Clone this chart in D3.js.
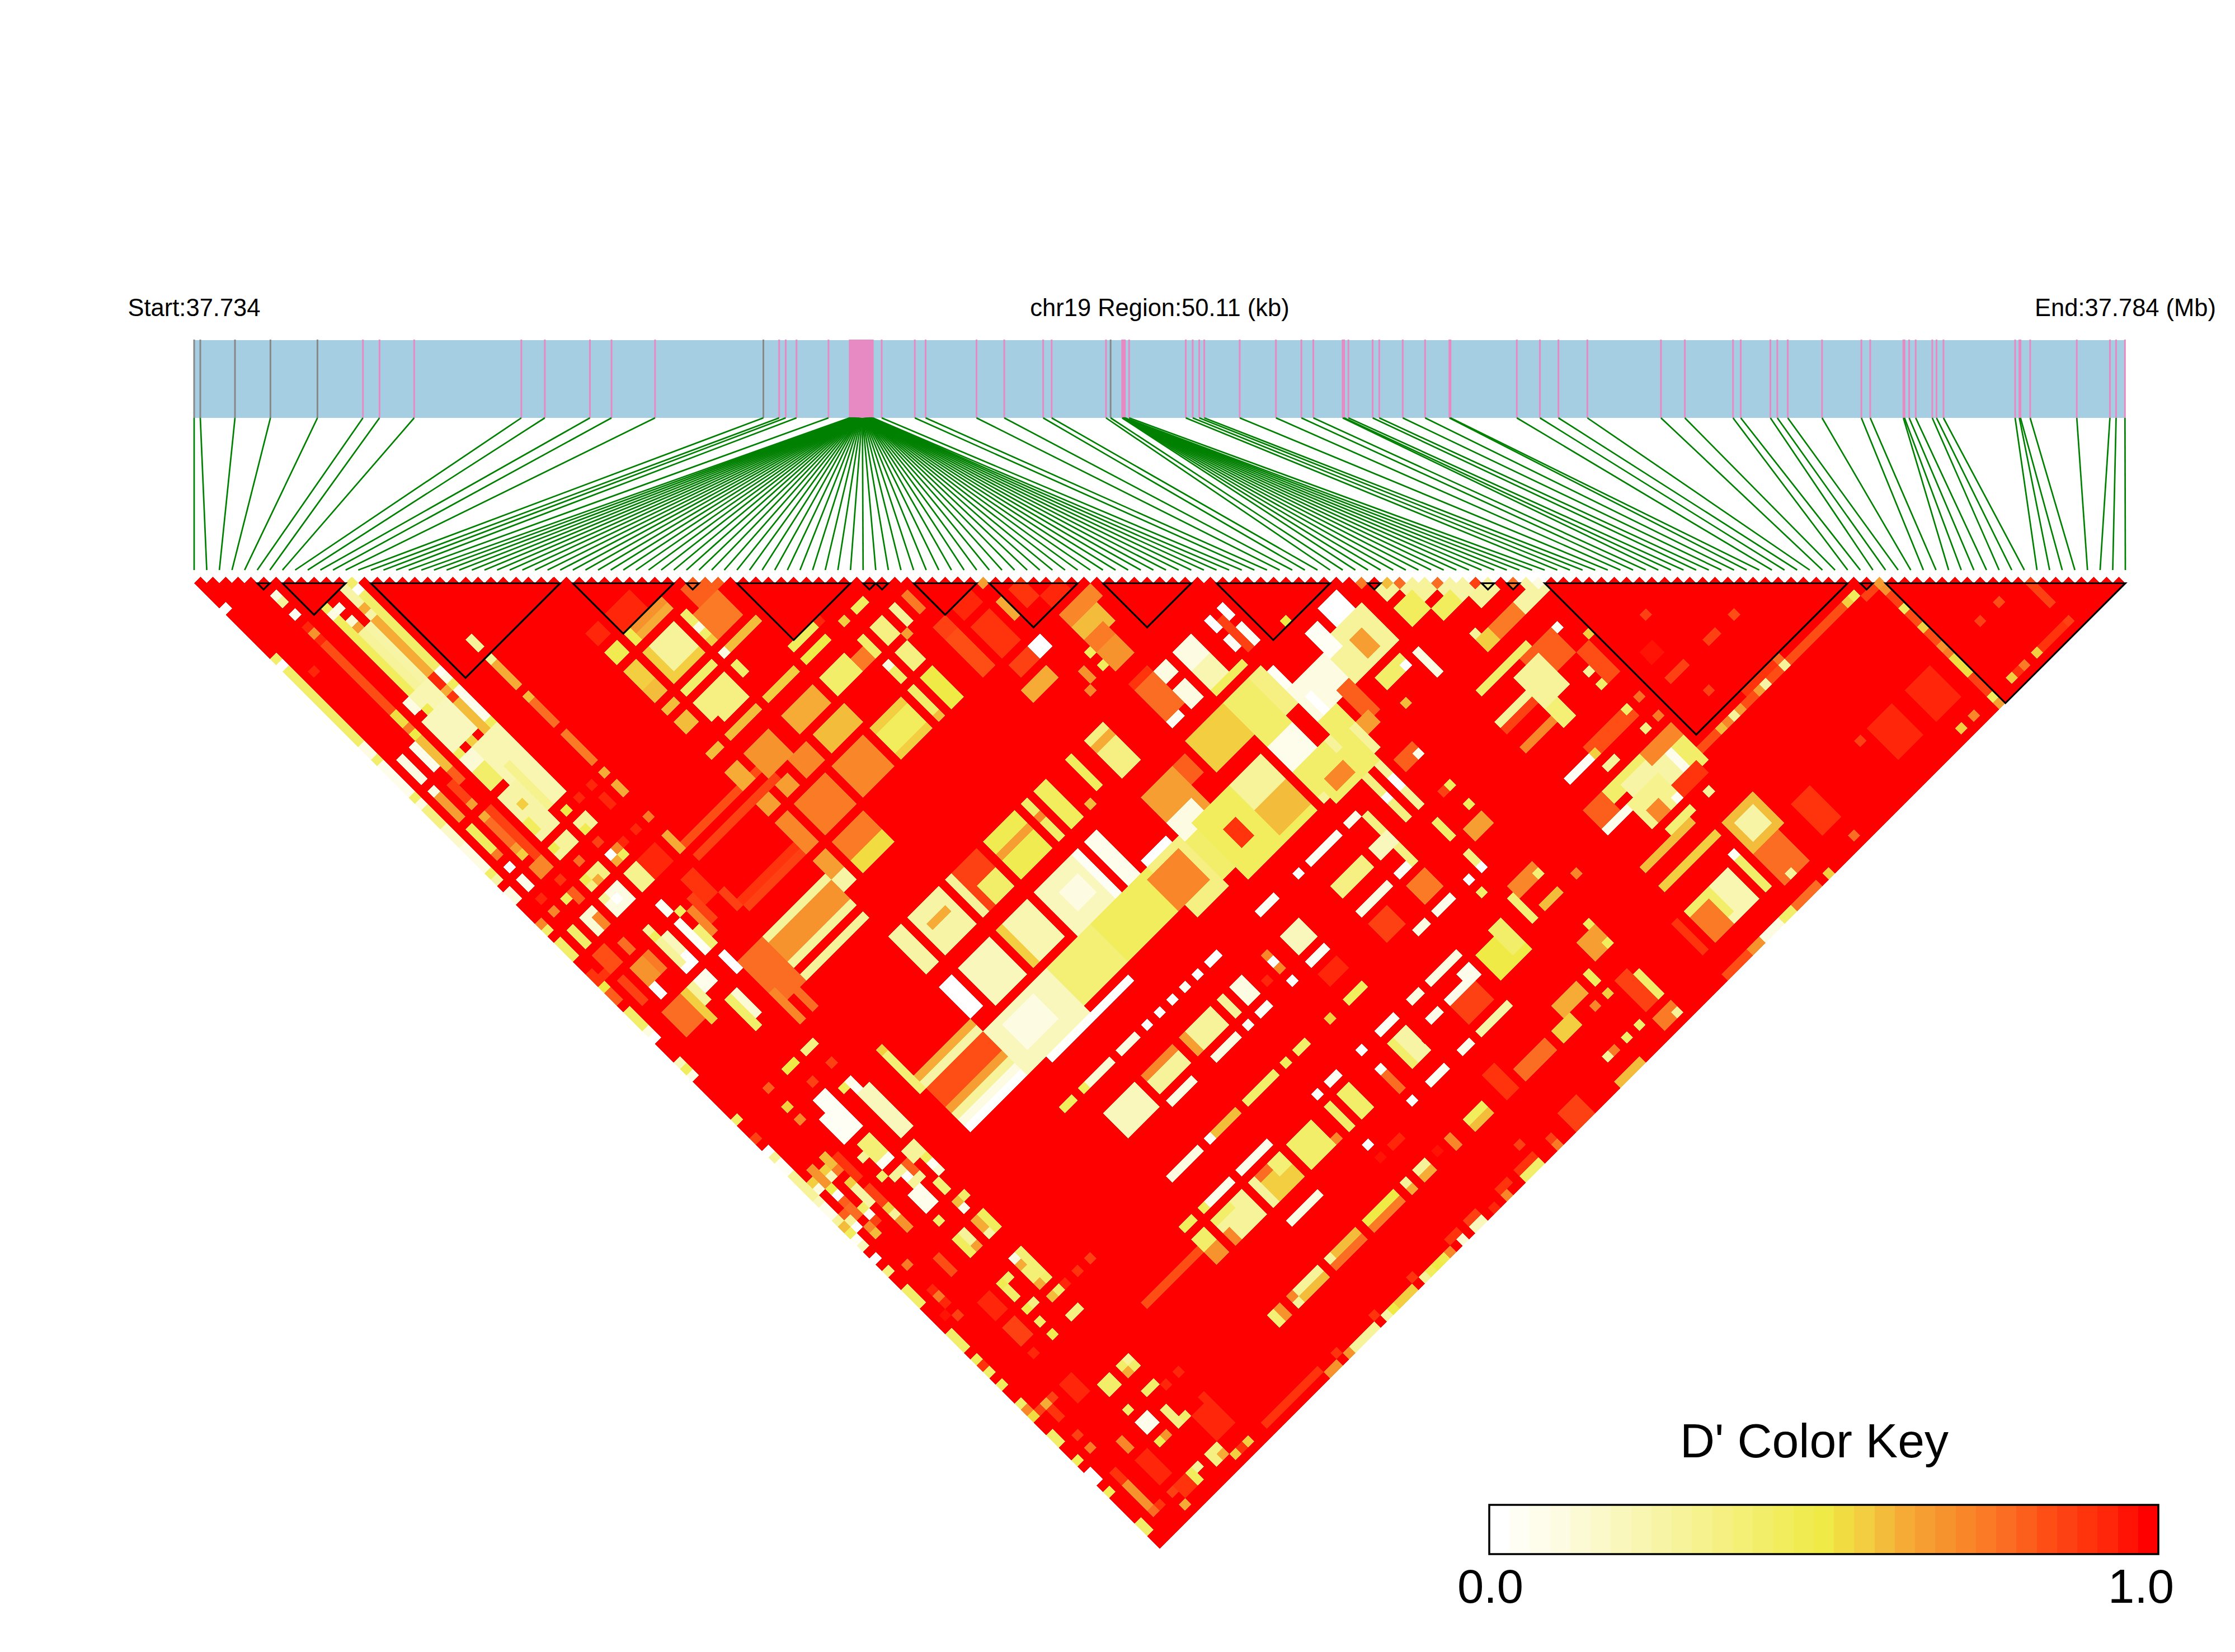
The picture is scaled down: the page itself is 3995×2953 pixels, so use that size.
<!DOCTYPE html>
<html><head><meta charset="utf-8">
<script src="https://d3js.org/d3.v7.min.js"></script>
<style>html,body{margin:0;background:#fff}svg{display:block}text{font-family:"Liberation Sans",Arial,sans-serif;fill:#000}</style>
</head><body><svg id="c" width="3995" height="2953" viewBox="0 0 3995 2953"></svg>
<script>
// SNP positions in kb from the region start
const snpLeft=[0,0.16,1.06,1.98,3.2,4.38,4.81,5.71,8.49,9.1,10.27,10.83,11.96,14.77,15.18,15.35,15.63,16.46];
const snpDense=[17.01,17.02,17.03,17.04,17.05,17.06,17.07,17.08,17.09,17.1,17.11,17.12,17.13,17.14,17.15,17.16,17.17,17.18,17.185,17.19,17.2,17.21,17.22,17.23,17.24,17.25,17.26,17.265,17.27,17.28,17.29,17.3,17.31,17.32,17.33,17.34,17.345,17.35,17.36,17.37,17.38,17.39,17.4,17.405,17.41,17.42,17.43,17.44,17.45,17.455,17.46,17.47,17.48,17.49,17.5,17.505,17.51,17.52,17.53,17.54,17.55,17.56,17.57,17.58];
const snpMid=[17.61,17.84,18.7,18.98,20.3,21.02,22.03,22.25,23.66,23.78,24.08,24.085,24.09,24.095,24.1,24.105,24.11,24.115,24.12,24.125,24.13,24.135,24.14,24.145,24.15,24.26,25.73,25.91,26.08,26.21,27.13,28.07,28.73,29.04,29.8,29.84,29.95,30.58,30.75,31.36,31.94,32.57,32.6];
const snpRight=[34.32,34.92,35.4,36.15,38.06,38.68,39.93,40.13,40.9,41.08,41.35,42.24,43.26,43.49,44.35,44.38,44.5,44.67,45.1,45.21,45.39,47.25,47.36,47.39,47.64,48.85,49.71,49.87,50.1];
const greySnps=[0,1,2,3,4,13,91];
// LD block outlines, as first and last SNP index
const blockFirst=[5,7,14,30,39,43,53,54,57,63,72,81,93,102,104,107,132,134];
const blockLast=[6,12,29,38,40,52,54,55,62,70,79,90,94,103,105,131,133,153];
// legend
const keyLevels=[0,.1,.28,.5,.56,.63,.7,.78,.85,.93,1];
const keyColours=["#FFFFFF","#FDFBDF","#F7F39A","#EFEA45","#F2CF40","#F5A834","#F88E2C","#FB6E22","#FE4B15","#FF2A0A","#FF0000"];
const keyBins=33;
const keyTicks=["0.0","1.0"];
const labels=["Start:37.734","chr19 Region:50.11 (kb)","End:37.784 (Mb)"];
// D' patches: [first i, last i, first j, last j, D']; anything not listed is 1.0
const patchesEdge=[[0,0,5,5,0],[0,0,13,13,.42],[0,0,14,14,0],[0,0,15,26,.42],[0,0,27,28,.12],[0,0,29,29,.42],[0,0,30,34,.08],[0,0,35,35,.42],[0,0,36,36,.1],[0,0,37,39,.35],[0,0,40,42,.18],[0,0,43,46,.12],[0,0,47,47,.42],[0,0,48,48,.25],[0,0,50,51,.12],[0,0,55,55,.72],[0,0,56,56,.42],[0,0,58,60,.4],[0,0,63,63,.88],[0,0,65,65,.5],[0,0,66,67,.8],[0,0,69,71,.42],[0,0,72,72,.1],[0,0,73,73,.03],[0,0,77,77,.2],[0,0,78,78,.45],[0,0,79,79,.12],[0,0,86,86,.42],[0,0,89,89,.85],[0,0,91,91,0],[0,0,92,92,.3],[0,0,93,94,.06],[0,0,95,98,.3],[0,0,99,99,.2],[0,0,100,101,.08],[0,0,102,102,.3],[0,0,103,103,.6],[0,0,104,104,.45],[0,0,105,105,.05],[0,0,106,106,.2],[0,0,108,108,0],[0,0,110,110,.35],[0,0,113,115,.42],[0,0,120,122,.42],[0,0,124,124,.45],[0,0,125,125,.88],[0,0,126,126,.4],[0,0,128,128,.45],[0,0,131,131,.42],[0,0,132,132,.7],[0,0,133,133,.52],[0,0,136,137,.42],[0,0,140,140,.45],[0,0,142,143,0],[0,0,145,145,.45],[0,0,150,151,.4]];
const patchesLeft=[[5,5,8,8,.1],[5,5,9,9,.3],[5,5,11,11,.05],[5,5,13,13,.92],[5,5,14,14,.68],[5,5,15,15,.92],[5,5,16,26,.83],[5,5,27,28,.52],[5,5,29,29,.75],[5,5,30,30,.5],[5,5,31,35,.6],[5,5,36,37,.8],[2,2,17,17,.93],[12,12,13,13,.4],[12,12,14,14,0],[11,11,13,14,.25],[12,12,15,26,.42],[12,12,27,27,.05],[12,12,28,28,.1],[12,12,29,29,.45],[12,12,30,34,.08],[12,12,35,35,.45],[12,12,36,36,.1],[12,12,37,37,.42],[12,12,38,46,.2],[13,13,48,48,.93],[11,11,15,15,.25],[11,11,16,16,.63],[11,11,17,17,.25],[11,11,18,26,.62],[11,11,27,28,.93],[11,11,29,29,.62],[11,11,30,30,.9],[11,11,31,35,.58],[11,11,36,36,.1],[11,11,37,46,.3],[11,11,48,48,.5],[8,8,13,13,.45],[8,8,14,14,.1],[9,9,14,14,.08],[8,8,15,26,.45],[9,9,16,16,.15],[9,9,17,17,.65],[9,9,18,26,.3],[10,10,18,26,.25],[8,10,27,29,.22],[7,7,27,28,.1],[8,8,29,29,.48],[7,10,30,34,.2],[7,7,35,35,.45],[7,8,36,37,.15],[9,12,36,46,.22],[10,10,40,46,.32],[7,8,38,40,.42],[7,9,42,48,.25],[7,7,46,47,.45],[8,8,44,44,.56],[9,9,35,35,.55],[4,4,31,34,.08],[2,2,31,34,.12],[2,2,36,36,.12],[2,2,37,40,.66],[4,4,37,39,.85],[4,4,40,40,.65],[2,2,42,45,.45],[2,2,46,46,.75],[4,4,42,42,.62],[4,4,43,46,.78],[4,4,47,47,.65],[4,4,48,48,.55],[5,5,42,50,.85],[17,17,27,28,.3],[17,17,30,30,.3],[17,17,31,34,.63],[17,17,36,36,.6],[17,17,37,40,.78],[17,17,42,46,.75],[17,17,48,48,.63],[15,15,48,48,.93],[17,17,50,51,.63],[15,15,50,51,.93],[17,17,55,55,.75],[15,15,55,55,.93],[17,17,58,60,.62],[18,29,60,60,.82],[18,30,62,62,.87],[27,28,36,37,.92],[30,33,36,38,.92],[27,28,39,40,.48],[27,28,42,44,.55],[27,28,45,46,.6],[27,28,48,48,.6],[27,28,50,51,.58],[27,28,55,55,.58],[27,28,58,60,.63],[30,34,42,46,.56],[31,34,42,45,.3],[30,30,39,40,.48],[31,35,40,40,.63],[31,35,39,39,.68],[36,36,42,45,.42],[36,36,44,44,.12],[36,36,46,46,.55],[37,40,43,46,.73],[38,41,40,42,.8],[36,36,48,48,.12],[37,41,48,48,.58],[30,34,48,48,.4],[30,34,50,52,.35],[31,34,53,53,.35],[30,34,55,55,.58],[36,36,50,51,.4],
[11,12,50,51,.3],[11,11,51,51,.48],[7,9,50,51,.3],[7,7,50,50,.48],[11,11,53,53,.85],[8,8,53,53,.78],[4,5,50,51,.7],[2,2,48,48,0],[2,2,50,51,.08],[5,5,53,53,.88],[2,2,53,53,.92],[4,4,55,55,.45],[5,5,55,56,.8],[2,2,55,55,.7],[7,9,55,56,.35],[7,7,55,55,.48],[8,8,56,56,.63],[11,11,55,55,0],[12,12,55,55,.7],[12,12,56,56,.45],[11,11,56,56,.62],[13,13,55,55,.92],[11,12,58,60,.33],[7,9,58,60,.1],[8,8,59,59,.02],[7,7,58,58,.3],[4,5,58,60,.15],[5,5,59,60,.7],[2,2,58,60,.42],[13,15,58,60,.92],[2,3,62,64,.82],[0,1,64,64,.88],[5,5,63,64,.78],[4,5,66,68,.68],[6,6,66,68,.75],[2,2,66,69,.85],[4,4,69,70,0],[8,9,69,70,0],[8,9,72,73,.08],[12,12,72,74,0],[12,12,68,70,.38],[11,11,66,70,.05],[11,11,63,64,.05],[12,12,65,65,.45],[8,8,64,64,.3],[8,8,65,65,.45],[8,8,66,69,.3],[9,9,66,68,.2],[13,13,66,69,.7],[14,14,65,68,.85],[17,17,67,69,.85],[15,16,63,66,.88],[7,7,72,74,.3],[6,6,72,76,.55],[10,10,76,79,.15],[9,9,76,80,.4],[3,5,72,75,.78],[18,26,69,69,.88],[18,26,70,70,.85]];
const patchesMid=[[42,45,53,53,.45],[42,45,55,55,.5],[46,46,53,53,.93],[50,51,55,55,.45],[48,48,55,55,.55],[53,53,58,60,.3],[50,51,58,60,.35],[48,48,58,60,.42],[50,51,62,64,.35],[48,48,62,64,.4],[48,48,62,62,.12],[52,52,61,61,.65],[42,45,58,60,.42],[46,47,59,60,.75],[36,40,55,55,.55],[36,40,58,60,.62],[30,33,58,61,.68],[37,41,62,64,.6],[42,46,66,70,.57],[42,46,67,69,.45],[48,48,66,69,.42],[48,48,70,70,.58],[50,51,66,70,.5],[55,56,63,64,.85],[55,56,65,70,.82],[58,60,66,70,.9],[58,60,63,64,.92],[55,55,58,60,.75],[62,62,66,68,.62],[66,68,69,70,.92],[64,65,66,68,.9],[66,70,72,73,.7],[66,69,74,76,.58],[61,62,72,73,.03],[58,60,72,73,.85],[57,60,75,76,.62],[65,65,77,77,.45],[65,65,79,79,.45],[66,68,78,80,.68],[66,68,76,77,.75],[63,63,78,79,.68],[62,62,80,80,.7],[66,68,83,83,.9],[69,70,84,85,.1],[66,68,84,88,.78],[69,70,87,89,.12],[66,67,89,89,.05],[72,74,84,86,.12],[72,74,87,89,.22],[72,76,90,90,.45],[79,79,84,85,0],[77,77,84,85,0],[77,77,87,88,.05],[79,79,87,89,.05],[78,78,85,89,.85],[83,83,90,90,.5],[36,40,66,70,.7],[30,34,66,70,.73],[27,28,63,64,.65],[30,31,63,64,.65],[33,35,62,64,.7],[27,28,66,70,.72],[30,34,72,74,.73],[30,34,75,76,.53],[27,28,72,74,.66],[27,28,75,76,.25],[17,26,74,74,.3],[17,26,75,77,.68],[17,26,78,78,.3],[17,26,80,80,.3],[13,16,74,80,.78],[13,13,79,83,.72],[15,15,78,83,.78],[30,34,84,89,.25],[31,33,86,86,.62],[27,28,84,89,.25],[36,40,84,89,.85],[38,40,87,89,.42],[36,36,84,89,.3],[42,46,84,89,.48],[42,46,86,86,.65],[50,51,84,89,.45],[48,48,84,89,.42],[48,48,86,86,.7],[53,53,89,89,.58],[58,60,84,89,.35],[58,60,85,85,.62],[55,55,84,88,.45],[58,62,93,98,.65],[66,71,92,96,.55],[63,64,93,95,.8],[42,48,92,98,.2],[44,46,94,96,.1],[50,51,92,98,.08],[48,48,92,98,.05],[36,40,92,97,.22],[36,36,92,97,.56],[30,34,92,97,.2],[27,28,92,96,0],[36,48,99,104,.38],[44,52,99,104,.45],[30,42,106,106,.02],[27,36,99,105,.2],[29,33,100,103,.12],[18,26,99,101,.83],[18,26,97,97,.62],[18,26,98,98,.25],[18,26,102,102,.65],[18,26,103,103,.3],[18,26,104,104,.1],[18,26,105,105,0],[17,17,92,92,.56],[17,17,93,98,.38],[64,64,111,111,0],[58,60,111,111,.05],[58,60,115,117,.2],[50,51,111,111,.03],[48,48,111,111,0],[46,46,111,111,.05],[44,44,111,111,.03],[42,42,111,111,.03],[40,40,111,111,.03],[36,38,111,111,.1],[30,34,111,111,.15],[30,30,111,111,.45],[27,28,111,111,.45],[36,40,115,117,.3],[36,40,115,115,.72],[36,39,119,119,.1],[42,46,125,125,.42],[30,34,115,118,.2],[36,40,125,125,.6],[48,48,125,125,.45],[50,51,125,125,.4],[42,46,115,117,.3],[42,42,115,117,.65],[43,46,119,119,.1],[50,51,115,117,.1],[48,48,115,117,.3],[50,51,119,119,.05],[48,48,119,119,.05],[55,55,115,115,.7],[55,55,116,116,0],[55,55,117,117,.7],[55,55,119,119,0],[53,53,117,117,.93],[8,9,91,92,.05],[11,11,92,92,.45],[12,12,92,92,.08],[7,9,93,96,.06],[12,13,94,100,.2],[12,12,93,93,.05],[5,5,91,91,.7],[5,5,89,89,.55],[5,5,86,86,.8],[9,9,89,89,.85],[12,12,89,89,.85],[11,12,86,86,.35],[8,9,86,86,.5],
[53,57,99,106,.35],[72,80,103,107,.3],[58,61,97,100,.1],[58,62,100,105,.42],[60,70,99,107,.45],[62,63,102,104,.9],[66,70,103,106,.6],[66,70,99,102,.3],[72,75,92,98,.4],[72,75,99,102,.08],[72,76,103,106,.42],[78,78,93,95,.05],[78,84,96,100,.1],[53,56,98,98,.03],[52,56,100,104,.7],[76,77,92,97,.35]];
const patchesRight=[[84,90,95,100,.3],[84,85,93,96,.05],[87,89,92,94,.02],[87,88,97,99,.66],[86,89,102,103,.42],[89,89,103,103,0],[91,91,103,106,.12],[86,86,106,106,.58],[82,83,100,104,.8],[78,80,101,103,.42],[81,82,104,105,.65],[79,79,98,100,0],[92,92,93,93,.75],[94,94,95,95,.6],[95,96,96,96,.78],[97,97,98,98,.72],[98,99,99,99,.78],[100,100,101,101,.72],[101,101,102,102,.85],[102,103,103,103,.72],[104,104,105,105,.78],[105,105,106,106,.65],[106,106,107,107,.12],[93,94,95,96,.28],[95,97,97,99,.3],[98,100,100,102,.25],[96,98,101,102,.45],[100,102,103,104,.3],[93,95,98,100,.45],[103,106,107,108,.25],[97,98,107,108,.55],[97,97,106,106,.3],[99,102,107,108,.75],[93,100,111,111,.42],[104,104,112,112,.05],[103,103,112,112,.45],[106,106,115,115,.55],[104,104,118,118,0],[103,103,118,118,.3],[103,103,113,114,.15],[99,103,112,115,.8],[97,100,113,117,.3],[97,98,118,120,.38],[92,97,115,115,.3],[92,96,116,116,.85],[92,96,119,119,.7],[104,105,116,120,.82],[103,103,120,120,.4],[105,105,124,124,.78],[105,105,127,127,.75],[112,112,118,118,.85],[119,119,125,125,.82],[115,116,125,125,.85],[109,111,125,125,.85],[109,110,121,122,.95],[111,111,129,129,.85],[105,129,133,133,.82],[130,130,133,133,.45],[129,129,133,133,.55],[119,119,133,133,.3],[119,119,132,132,.78],[116,116,133,133,.25],[115,115,133,133,.65],[111,111,133,133,.3],[112,112,133,133,.65],[109,109,133,133,.58],[110,110,133,133,.72],[114,118,132,132,.88],[133,133,134,135,.67],[133,133,136,137,.85],[133,133,138,138,.45],[133,133,139,140,.82],[133,133,141,141,.55],[133,133,142,143,.82],[133,133,144,144,.68],[133,133,145,145,.75],[133,133,146,148,.52],[133,133,149,151,.85],[133,133,152,152,.45],[133,133,153,153,.65],[131,132,134,134,.85],[145,145,146,149,.85],[141,141,145,145,.82],[138,138,145,145,.85],[145,145,152,152,.85],[140,140,152,152,.55],[141,144,152,152,.9],[138,138,152,152,.75],[137,137,152,152,.88],[136,136,152,152,.55],[121,124,145,149,.93],[127,130,145,149,.93],[128,128,152,152,.55],[130,130,152,152,.72],[119,119,145,145,.85],
[95,100,129,130,.42],[97,102,130,133,.25],[92,95,132,132,.08],[96,100,132,135,.33],[97,98,134,135,.7],[100,100,135,135,.05],[103,103,131,133,.07],[92,94,129,131,.8],[104,105,131,134,.42],[101,104,134,135,.9],[101,105,129,130,.72],[97,103,124,125,.82],[97,97,125,125,.55],[103,103,124,124,.4],[93,96,125,125,.05],[97,98,127,127,.3],[103,103,127,127,.35],[95,98,145,149,.22],[92,95,145,148,.42],[92,94,146,149,.75],[100,100,145,149,.42],[102,105,146,150,.78],[103,103,150,150,.3],[102,106,141,145,.6],[103,105,142,144,.25],[92,100,141,141,.55],[100,100,144,144,.05],[92,99,138,138,.58],[97,100,137,137,.38],[103,103,137,137,.3],[90,90,145,149,.88],[109,111,145,149,.9],[111,111,152,152,.78],[106,106,153,153,.55],[99,100,153,153,.42],[96,98,153,153,.12],[94,95,153,153,.68],[90,93,153,153,.82],[101,104,153,153,.78],
[81,83,110,111,.8],[83,83,111,111,.08],[83,83,116,116,.45],[82,82,116,116,.85],[83,83,119,119,.45],[78,79,104,108,.4],[79,79,109,115,.3],[79,79,111,112,0],[77,77,108,115,.35],[77,77,112,112,0],[73,77,105,108,.42],[74,76,106,107,.7],[81,83,121,122,.66],[79,79,118,120,.42],[72,73,111,111,.08],[74,74,112,119,.35],[72,74,115,116,.2],[72,73,119,119,.05],[66,70,111,111,.05],[66,70,115,116,.35],[66,70,119,119,.1],[66,68,121,123,.85],[69,70,125,125,.1],[72,74,121,123,.73],[72,74,125,125,.08],[77,77,127,127,.42],[77,77,125,125,0],[79,79,125,125,0],[79,79,123,124,.35],[80,83,129,130,.7],[83,83,130,130,.38],[81,83,133,133,.58],[79,79,130,133,.38],[86,86,133,133,.72],[72,76,132,135,.5],[75,76,131,134,.42],[81,83,139,141,.65],[83,83,141,141,.45],[83,83,138,138,.45],[79,79,142,143,.45],[74,77,142,143,.62],[72,74,144,145,.55],[69,70,132,133,.08],[66,70,130,130,.1],[66,68,133,133,.08],[66,69,134,136,.85],[66,70,138,138,.25],[63,64,130,130,.1],[63,64,133,133,.08],[58,60,125,125,.45],[55,55,125,125,.55],[58,60,119,119,.05],[58,60,121,122,.93],[58,60,130,130,.05],[58,60,132,135,.25],[58,58,132,135,.42],[55,55,130,130,0],[58,60,138,138,.05],[55,55,133,133,.05],[55,55,134,136,.78],[63,64,138,138,.07],[50,51,130,130,.05],[50,51,132,135,.42],[48,48,132,135,.4],[48,48,130,130,0],[55,55,138,138,0],[58,60,144,144,.45],[58,60,145,145,.6],[66,70,144,145,.78],[63,64,142,145,.88],[83,83,146,149,.42],[81,82,145,149,.85],[81,83,151,152,.75],[83,83,152,152,.3],[79,79,150,150,.42],[77,77,150,150,.42],[74,74,150,150,.3],[75,75,150,150,.75],[73,76,153,153,.58],[77,77,145,145,.72],[79,79,145,145,.55],[66,68,151,153,.85]];
const patchesLower=[[2,2,96,98,.68],[1,1,97,97,.55],[1,1,98,98,.12],[3,3,97,97,.55],[3,3,98,98,.2],[2,2,99,99,.48],[2,2,100,100,0],[4,4,96,97,.58],[5,5,97,100,.9],[4,4,100,100,.55],[4,4,98,98,.75],[4,4,101,103,.25],[5,5,102,106,.85],[5,5,105,105,.56],[5,5,106,106,.28],[5,5,107,108,.68],[2,2,101,101,.8],[2,2,102,103,.78],[1,1,102,102,.8],[1,1,103,103,.3],[1,1,104,104,0],[3,3,104,104,.05],[3,3,105,105,.85],[2,2,105,105,.7],[2,2,106,106,.58],[3,3,103,103,.42],
[8,9,98,100,.38],[7,7,99,99,.3],[8,9,101,101,.05],[7,7,102,102,.42],[8,9,103,103,.3],[10,10,103,104,.8],[11,12,102,103,.3],[12,12,104,104,.45],[12,12,105,105,.05],[12,12,106,106,.15],[9,9,104,104,0],[9,9,105,105,.3],[8,9,106,108,.08],[11,11,107,108,.38],[10,10,105,105,.3],[8,8,110,110,.42],[12,12,110,110,.42],[11,11,110,110,.58],[11,11,111,111,.08],[12,12,113,115,.45],[11,11,113,114,.62],[11,11,115,115,.25],[9,9,113,115,.3],[8,8,113,115,.45],[9,9,115,115,.65],[5,5,113,115,.83],[2,2,111,111,.75],[11,12,119,122,.38],[11,11,119,119,.1],[11,11,120,120,.62],[17,17,125,125,.85],[15,15,125,125,.88],[8,9,120,120,.4],[8,8,120,120,.47],[8,8,121,122,.42],[8,8,124,124,.48],[9,9,124,124,.35],[12,12,123,123,.42],[11,11,123,123,.62],[11,11,125,125,.58],[12,12,125,125,.42],[13,13,125,125,.92],[11,12,128,128,.35],[8,8,126,126,.42],[8,8,128,128,.48],[5,6,124,126,.85],[5,5,128,128,.93],[5,6,120,122,.92],[2,2,115,115,.92],[2,2,116,116,.75],[2,2,117,117,.93],[2,2,119,119,.85],[1,1,118,118,.95],[8,9,142,143,.07],[11,12,136,137,.42],[11,11,137,137,.63],[12,12,136,136,.3],[8,9,136,137,.42],[11,12,140,140,.42],[8,8,140,140,.42],[2,2,144,145,.88],[2,2,146,149,.68],[5,5,142,143,.7],[5,6,133,135,.92],[2,2,138,138,.85],[2,2,140,140,.75],[1,1,133,133,.85],[2,2,133,133,.62],[3,3,133,133,.85],[2,2,134,135,.9],
[30,34,125,125,.1],[36,36,125,125,.05],[36,40,130,130,.08],[30,34,130,130,.08],[30,30,130,130,.45],[27,28,130,130,.45],[30,34,132,135,.28],[30,32,132,132,.42],[30,30,134,135,.72],[27,28,132,133,.42],[27,28,134,135,.68],[18,26,133,133,.82],[36,40,132,135,.55],[36,36,132,135,.3],[37,38,132,132,.78],[39,40,132,133,.38],[42,45,132,135,.42],[46,46,135,135,.72],[36,40,138,138,.12],[30,34,144,144,.3],[30,34,145,145,.6],[30,30,145,145,.3],[30,30,144,144,.7],[28,28,144,145,.68],[27,27,144,145,.38],[36,40,144,144,.58],[36,40,145,145,.78],[36,36,144,144,.3],[42,46,144,144,.5],[42,46,145,145,.75],[50,51,144,144,.3],[50,51,145,145,.63],[48,48,144,144,.3],[48,48,145,145,.62],[55,55,144,145,.72],[60,60,150,150,.85],[63,63,153,153,.75],[63,63,152,152,.85],[58,60,153,153,.42],[58,60,152,152,.88],[55,56,152,152,.9],[55,55,153,153,.7],[53,53,153,153,.93],[50,51,152,152,.85],[50,51,153,153,.2],[47,47,152,152,.9],[48,48,152,152,.88],[48,48,153,153,.15],[46,46,153,153,.72],[45,45,153,153,.47],[44,44,153,153,.5],[43,43,153,153,.45],[42,42,153,153,.3],[41,41,152,152,.9],[38,40,153,153,.56],[37,37,153,153,.5],[36,36,153,153,.25],[35,35,152,152,.88],[31,34,153,153,.28],[30,30,153,153,.68],[29,29,152,152,.9],[27,28,153,153,.68],[18,26,152,152,.9],[13,14,146,149,.93],[15,15,145,149,.92],[11,12,150,151,.35],[12,12,151,151,.62],[13,13,152,152,.55],[14,14,152,152,.9],[15,15,152,152,.55],[9,9,150,150,.3],[8,8,150,151,.44],[5,5,152,152,.62],[5,5,150,150,.85],[6,7,150,151,.9],[5,6,145,148,.92],[9,9,145,145,.68],[8,8,145,145,.48],[12,12,145,145,.42],[11,11,145,145,.35],[11,11,143,144,.35],[2,2,150,150,.78],[3,3,150,150,.88],[15,15,141,141,.93],[13,13,141,141,.93],[48,48,140,140,.95],[50,51,140,140,.93],[53,53,144,144,.95],[48,48,138,138,0]];
const patchesTips=[[62,62,63,63,.65],[145,145,146,146,.85],[133,133,134,134,.65],[92,92,93,93,.75],[94,94,95,95,.6],[104,104,105,105,.78],[105,105,106,106,.25],[106,106,107,107,.12]];

const snpKb=[...snpLeft,...snpDense,...snpMid,...snpRight];
const n=snpKb.length;
const svg=d3.select("#c");
const xBar=d3.scaleLinear().domain([0,50.11]).range([347,3799]);
const xIdx=d3.scaleLinear().domain([0,n-1]).range([347,3799]);
const cell=xIdx(1)-xIdx(0);
const yGap=d3.scaleLinear().domain([0,n-1]).range([1031,1031+(n-1)/2*cell]);
const colour=d3.scaleLinear().domain(keyLevels).range(keyColours);
const binned=d3.scaleQuantize().domain([0,1]).range(d3.range(keyBins).map(k=>colour(k/(keyBins-1))));

// D' matrix
const D=d3.range(n).map(()=>new Array(n).fill(1));
[patchesEdge,patchesLeft,patchesMid,patchesRight,patchesLower,patchesTips].forEach(list=>list.forEach(([a,b,c,d,v])=>{
  for(let i=a;i<=b;i++)for(let j=c;j<=d;j++)if(i<j&&j<n)D[i][j]=v;
}));
const cells=[];
for(let i=0;i<n;i++)for(let j=i+1;j<n;j++)cells.push({i,j,v:D[i][j]});
const half=cell/2;
svg.append("g").attr("shape-rendering","crispEdges").selectAll("path").data(cells).join("path")
 .attr("d",c=>{const x=xIdx((c.i+c.j)/2),y=yGap(c.j-c.i);return `M${x-half},${y}L${x},${y-half}L${x+half},${y}L${x},${y+half}Z`;})
 .attr("fill",c=>c.v>=1?"#FF0000":binned(c.v));

// gene bar and SNP ticks
svg.append("rect").attr("x",xBar(0)).attr("y",608).attr("width",xBar(50.11)-xBar(0)).attr("height",139).attr("fill","#A6CEE3");
svg.append("g").selectAll("line").data(snpKb).join("line")
 .attr("x1",d=>xBar(d)).attr("x2",d=>xBar(d)).attr("y1",607).attr("y2",747)
 .attr("stroke",(d,k)=>greySnps.includes(k)?"#888888":"#E78AC3").attr("stroke-width",3);
svg.append("g").selectAll("line").data(snpKb).join("line")
 .attr("x1",d=>xBar(d)).attr("x2",(d,k)=>xIdx(k)).attr("y1",747).attr("y2",1019)
 .attr("stroke","#008000").attr("stroke-width",2.7);

// LD block outlines
svg.append("g").selectAll("path").data(blockFirst.map((a,k)=>[a,blockLast[k]])).join("path")
 .attr("d",([a,b])=>`M${xIdx(a)},1042.5L${xIdx(b)},1042.5L${xIdx((a+b)/2)},${1042.5+(b-a)/2*cell}Z`)
 .attr("fill","none").attr("stroke","#000").attr("stroke-width",3.2);

// header text
[0,25.055,50.11].forEach((kb,k)=>svg.append("text").attr("x",xBar(kb)).attr("y",565).attr("text-anchor","middle").attr("font-size",43.5).text(labels[k]));

// colour key
const xKey=d3.scaleLinear().domain([0,keyBins]).range([2662,3858]);
svg.append("g").attr("shape-rendering","crispEdges").selectAll("rect").data(d3.range(keyBins)).join("rect")
 .attr("x",k=>xKey(k)).attr("y",2690).attr("width",k=>xKey(k+1)-xKey(k)+.5).attr("height",88)
 .attr("fill",k=>colour(k/(keyBins-1)));
svg.append("rect").attr("x",2662).attr("y",2690).attr("width",1196).attr("height",88).attr("fill","none").attr("stroke","#000").attr("stroke-width",3.5);
svg.append("text").attr("x",3243).attr("y",2605).attr("text-anchor","middle").attr("font-size",86).text("D' Color Key");
svg.append("text").attr("x",2664).attr("y",2865).attr("text-anchor","middle").attr("font-size",85).text(keyTicks[0]);
svg.append("text").attr("x",3827).attr("y",2865).attr("text-anchor","middle").attr("font-size",85).text(keyTicks[1]);
</script></body></html>
